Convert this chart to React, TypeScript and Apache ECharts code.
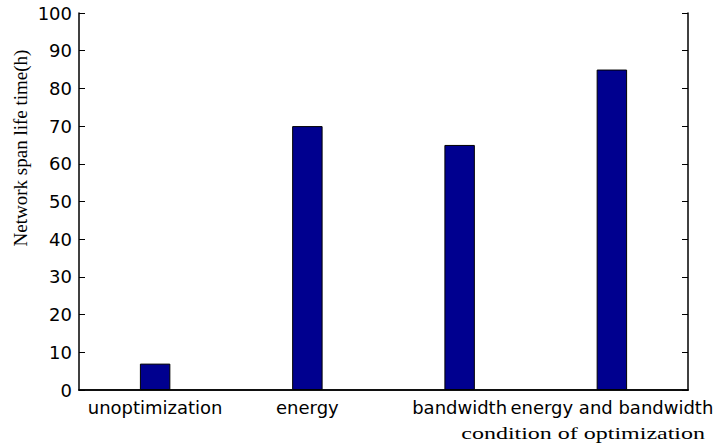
import React, { useEffect, useRef } from "react";
import * as echarts from "echarts";

const categories = ["unoptimization", "energy", "bandwidth", "energy and bandwidth"];
const lifeTimes = [7, 70, 65, 85];
const yTitle = "Network span life time(h)";
const xTitle = "condition of optimization";

export default function App() {
  const ref = useRef<HTMLDivElement>(null);
  useEffect(() => {
    if (!ref.current) return;
    const chart = echarts.init(ref.current, undefined, { renderer: "svg" });
    const tickFont = { fontFamily: "DejaVu Sans", fontSize: 18, color: "#000" };
    chart.setOption({
      animation: false,
      backgroundColor: "#fff",
      grid: { left: 79, right: 32, top: 13, bottom: 56 },
      xAxis: [
        {
          type: "category",
          data: categories,
          position: "bottom",
          axisLine: { lineStyle: { color: "#000", width: 1.5 } },
          axisTick: { inside: true, alignWithLabel: true, length: 5, lineStyle: { color: "#000" } },
          axisLabel: { ...tickFont, interval: 0, margin: 8 },
        },
        {
          type: "category",
          data: categories,
          position: "top",
          axisLine: { lineStyle: { color: "#000", width: 1.5 } },
          axisTick: { inside: true, alignWithLabel: true, length: 5, lineStyle: { color: "#000" } },
          axisLabel: { show: false },
        },
      ],
      yAxis: [
        {
          type: "value",
          min: 0,
          max: 100,
          interval: 10,
          position: "left",
          splitLine: { show: false },
          axisLine: { show: true, lineStyle: { color: "#000", width: 1.5 } },
          axisTick: { show: true, inside: true, length: 6, lineStyle: { color: "#000" } },
          axisLabel: { ...tickFont, margin: 7 },
        },
        {
          type: "value",
          min: 0,
          max: 100,
          interval: 10,
          position: "right",
          splitLine: { show: false },
          axisLine: { show: true, lineStyle: { color: "#000", width: 1.5 } },
          axisTick: { show: true, inside: true, length: 6, lineStyle: { color: "#000" } },
          axisLabel: { show: false },
        },
      ],
      series: [
        {
          type: "bar",
          xAxisIndex: 0,
          yAxisIndex: 0,
          data: lifeTimes,
          barWidth: "20%",
          itemStyle: { color: "#00008F", borderColor: "#000", borderWidth: 1 },
        },
      ],
      graphic: [
        {
          type: "text",
          x: 20,
          y: 148,
          rotation: Math.PI / 2,
          style: {
            text: yTitle,
            font: "19px 'Liberation Serif'",
            fill: "#000",
            align: "center",
            verticalAlign: "middle",
          },
        },
        {
          type: "text",
          x: 705,
          y: 434,
          scaleX: 1.5,
          style: {
            text: xTitle,
            font: "16px 'Liberation Serif'",
            fill: "#000",
            align: "right",
            verticalAlign: "middle",
          },
        },
      ],
    });
    return () => chart.dispose();
  }, []);
  return (
    <div
      ref={ref}
      style={{ position: "fixed", left: 0, top: 0, width: 720, height: 446 }}
    />
  );
}
